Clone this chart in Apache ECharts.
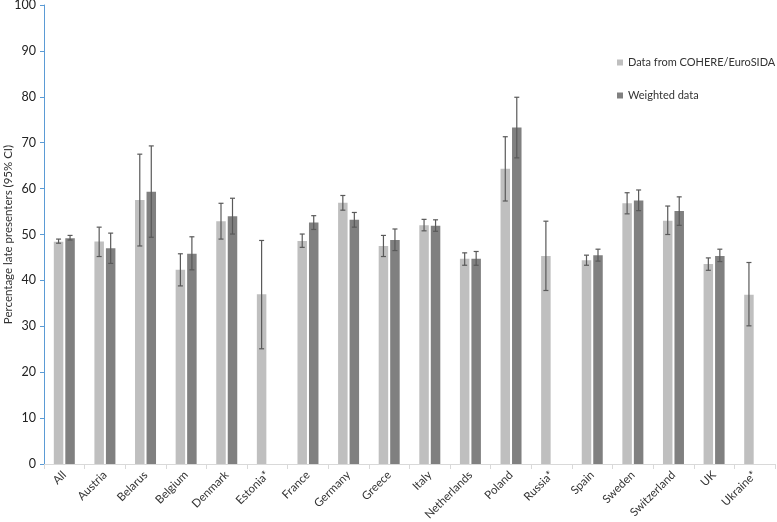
<!DOCTYPE html>
<html>
<head>
<meta charset="utf-8">
<script src="https://cdn.jsdelivr.net/npm/echarts@6/dist/echarts.min.js"></script>
<style>
  html, body { margin: 0; padding: 0; background: #fff; }
  #chart { width: 777px; height: 522px; }
</style>
</head>
<body>
<div id="chart"></div>
<script>
// categories
const countries = ['All', 'Austria', 'Belarus', 'Belgium', 'Denmark', 'Estonia*', 'France', 'Germany', 'Greece',
  'Italy', 'Netherlands', 'Poland', 'Russia*', 'Spain', 'Sweden', 'Switzerland', 'UK', 'Ukraine*']

// Data from COHERE/EuroSIDA
const rawVals = [48.4, 48.5, 57.5, 42.3, 52.9, 37.0, 48.6, 56.9, 47.5, 52.0, 44.7, 64.3, 45.3, 44.4, 56.8, 53.0, 43.6, 36.9]
const rawLow  = [48.1, 45.2, 47.5, 38.8, 49.0, 25.1, 47.2, 55.3, 45.2, 50.8, 43.3, 57.3, 37.8, 43.3, 54.5, 50.0, 42.2, 30.1]
const rawHigh = [49.0, 51.6, 67.5, 45.8, 56.8, 48.7, 50.1, 58.5, 49.8, 53.3, 46.0, 71.3, 52.9, 45.5, 59.1, 56.2, 44.9, 43.9]

// Weighted data
const wVals = [49.2, 47.0, 59.3, 45.8, 54.0, null, 52.6, 53.2, 48.8, 51.9, 44.7, 73.3, null, 45.5, 57.4, 55.1, 45.3, null]
const wLow  = [48.8, 43.7, 49.4, 42.3, 50.1, null, 51.1, 51.6, 46.5, 50.7, 43.3, 66.7, null, 44.2, 55.2, 52.0, 44.1, null]
const wHigh = [49.8, 50.3, 69.3, 49.5, 57.9, null, 54.1, 54.8, 51.2, 53.2, 46.3, 79.9, null, 46.8, 59.7, 58.2, 46.8, null]

const yTicks = [0, 10, 20, 30, 40, 50, 60, 70, 80, 90, 100]

const chart = echarts.init(document.getElementById('chart'))

// error bars: [category, low, high, side]
const errData = []
countries.forEach((c, i) => {
  errData.push([i, rawLow[i], rawHigh[i], -1])
  if (wVals[i] != null) errData.push([i, wLow[i], wHigh[i], 1])
})

const BAR_W = 9.5
const BAR_GAP = 2

const renderError = (params, api) => {
  const side = api.value(3)
  const lo = api.coord([api.value(0), api.value(1)])
  const hi = api.coord([api.value(0), api.value(2)])
  const x = lo[0] + side * (BAR_W + BAR_GAP) / 2
  const style = { stroke: '#595959', lineWidth: 1.2 }
  return {
    type: 'group',
    children: [
      { type: 'line', shape: { x1: x, y1: lo[1], x2: x, y2: hi[1] }, style },
      { type: 'line', shape: { x1: x - 2.5, y1: lo[1], x2: x + 2.5, y2: lo[1] }, style },
      { type: 'line', shape: { x1: x - 2.5, y1: hi[1], x2: x + 2.5, y2: hi[1] }, style }
    ]
  }
}

const font = 'Lato, "Open Sans", sans-serif'

chart.setOption({
  animation: false,
  textStyle: { fontFamily: font },
  grid: { left: 44, right: 2, top: 5, bottom: 58, outerBoundsMode: 'none', containLabel: false },
  legend: {
    orient: 'vertical',
    left: 612,
    top: 52,
    itemWidth: 6,
    itemHeight: 6,
    itemGap: 22,
    icon: 'rect',
    textStyle: { fontSize: 11, color: '#333', fontFamily: font },
    data: ['Data from COHERE/EuroSIDA', 'Weighted data']
  },
  xAxis: {
    type: 'category',
    data: countries,
    axisLine: { lineStyle: { color: '#d9d9d9' } },
    axisTick: { show: true, length: 5, lineStyle: { color: '#d9d9d9' } },
    axisLabel: { rotate: 45, fontSize: 11.5, color: '#333', margin: 9, interval: 0 }
  },
  yAxis: {
    type: 'value',
    min: yTicks[0],
    max: yTicks[yTicks.length - 1],
    interval: 10,
    name: 'Percentage late presenters (95% CI)',
    nameLocation: 'middle',
    nameGap: 30,
    nameMoveOverlap: false,
    nameTextStyle: { fontSize: 11.5, color: '#333' },
    splitLine: { show: false },
    axisLine: { show: true, lineStyle: { color: '#5b9bd5' } },
    axisTick: { show: true, length: 4, lineStyle: { color: '#5b9bd5' } },
    axisLabel: { fontSize: 12.5, color: '#222', margin: 8 }
  },
  series: [
    {
      name: 'Data from COHERE/EuroSIDA',
      type: 'bar',
      data: rawVals,
      barWidth: BAR_W,
      barGap: (BAR_GAP / BAR_W * 100) + '%',
      itemStyle: { color: '#bfbfbf' }
    },
    {
      name: 'Weighted data',
      type: 'bar',
      data: wVals,
      barWidth: BAR_W,
      itemStyle: { color: '#808080' }
    },
    {
      type: 'custom',
      renderItem: renderError,
      data: errData,
      encode: { x: 0, y: [1, 2] },
      z: 10,
      silent: true
    }
  ]
})
</script>
</body>
</html>
